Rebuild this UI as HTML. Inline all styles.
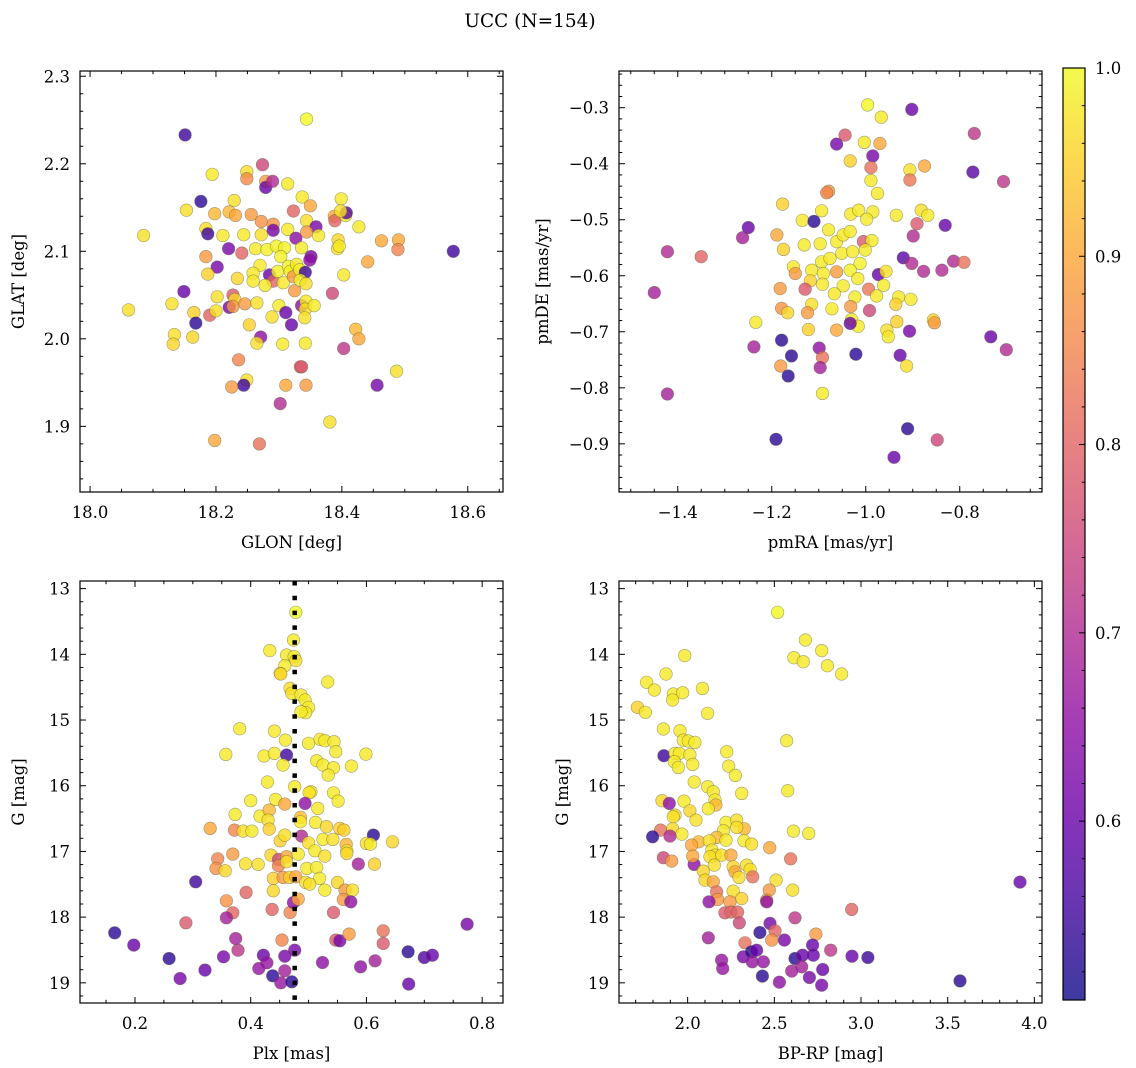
<!DOCTYPE html>
<html><head><meta charset="utf-8">
<style>
html,body{margin:0;padding:0;background:#fff;}
svg{display:block;font-family:"DejaVu Serif","Liberation Serif",serif;}
</style></head>
<body>
<svg id="fig" width="1136" height="1068" viewBox="0 0 1136 1068" xmlns="http://www.w3.org/2000/svg">
<rect x="0" y="0" width="1136" height="1068" fill="#fff"/>
<text x="530" y="27" font-size="18.5" text-anchor="middle" fill="#000">UCC (N=154)</text>
</svg>
<script>
// ---- Panel 1: GLON vs GLAT ----
const glon=[18.344,18.151,18.274,18.194,18.249,18.249,18.279,18.279,18.290,18.314,18.176,18.153,18.229,18.198,18.221,18.231,18.256,18.323,18.337,18.350,18.399,18.388,18.389,18.406,18.407,18.398,18.427,18.184,18.187,18.211,18.244,18.272,18.291,18.291,18.272,18.314,18.327,18.344,18.359,18.344,18.363,18.085,18.220,18.241,18.263,18.281,18.296,18.309,18.336,18.303,18.351,18.349,18.394,18.393,18.396,18.463,18.490,18.489,18.577,18.441,18.184,18.202,18.187,18.234,18.270,18.259,18.285,18.291,18.298,18.307,18.315,18.318,18.328,18.323,18.333,18.342,18.325,18.334,18.343,18.259,18.278,18.403,18.149,18.130,18.202,18.227,18.230,18.221,18.227,18.246,18.265,18.300,18.311,18.336,18.343,18.342,18.356,18.385,18.061,18.165,18.190,18.168,18.200,18.289,18.320,18.341,18.253,18.134,18.132,18.163,18.271,18.265,18.306,18.342,18.422,18.427,18.403,18.236,18.334,18.336,18.249,18.244,18.225,18.311,18.343,18.456,18.487,18.302,18.381,18.198,18.269];
const glat=[2.251,2.233,2.199,2.188,2.191,2.183,2.180,2.173,2.180,2.177,2.157,2.147,2.158,2.143,2.145,2.141,2.142,2.146,2.162,2.152,2.160,2.140,2.135,2.141,2.144,2.146,2.128,2.126,2.120,2.118,2.119,2.134,2.131,2.124,2.119,2.125,2.115,2.135,2.128,2.122,2.118,2.118,2.103,2.098,2.103,2.102,2.106,2.104,2.104,2.094,2.094,2.090,2.113,2.103,2.106,2.112,2.113,2.102,2.100,2.088,2.094,2.082,2.074,2.069,2.084,2.075,2.073,2.066,2.077,2.064,2.083,2.077,2.085,2.071,2.079,2.076,2.055,2.067,2.063,2.066,2.061,2.073,2.054,2.040,2.048,2.050,2.045,2.036,2.037,2.040,2.041,2.038,2.030,2.038,2.043,2.034,2.038,2.052,2.033,2.030,2.027,2.018,2.032,2.025,2.016,2.024,2.016,2.005,1.994,2.002,2.002,1.995,1.994,1.995,2.011,2.000,1.989,1.976,1.968,1.968,1.953,1.947,1.945,1.947,1.947,1.947,1.963,1.926,1.905,1.884,1.880];
const probA=[1,.55,.75,.98,.97,.86,.88,.6,.7,.98,.53,.97,.97,.92,.92,.9,.88,.8,.98,.9,.98,.9,.8,.98,.58,.97,.98,.97,.55,.98,.98,.87,.87,.62,.97,.98,.65,.97,.62,.88,.98,.97,.62,.8,.98,.99,.99,.99,.98,.99,.62,.65,.96,.97,.98,.9,.9,.85,.55,.9,.88,.62,.95,.96,.98,.98,.6,.8,.99,.98,.99,.99,.98,.88,.99,.55,.88,.99,.97,.98,.98,.98,.6,.97,.97,.78,.96,.62,.88,.88,.97,.98,.6,.65,.98,.97,.98,.75,.97,.95,.8,.53,.97,.97,.6,.97,.95,.97,.96,.96,.65,.97,.98,.98,.92,.9,.72,.85,.8,.78,.97,.55,.88,.9,.88,.62,.97,.7,.97,.9,.82];
const glonTicks=[18.0,18.2,18.4,18.6];
const glatTicks=[1.9,2.0,2.1,2.2,2.3];

// ---- Panel 2: pmRA vs pmDE ----
const pmra=[-0.996,-0.902,-0.967,-0.769,-1.044,-1.062,-1.003,-0.970,-0.985,-1.033,-0.989,-0.875,-0.906,-0.906,-0.772,-0.707,-0.989,-0.975,-1.079,-1.083,-1.177,-1.094,-1.135,-1.110,-1.032,-1.015,-0.985,-0.998,-0.935,-0.882,-0.868,-0.891,-0.831,-0.899,-1.250,-1.262,-1.189,-1.175,-1.131,-1.097,-1.079,-1.062,-1.048,-1.033,-1.005,-0.987,-1.001,-1.422,-1.350,-0.920,-0.902,-0.877,-0.838,-0.813,-0.791,-1.154,-1.150,-1.115,-1.094,-1.076,-1.051,-1.028,-1.012,-1.033,-1.062,-1.090,-0.973,-0.957,-0.962,-1.118,-1.129,-1.092,-1.048,-1.017,-1.182,-1.450,-0.994,-1.067,-1.023,-0.977,-0.930,-0.904,-0.936,-1.115,-1.179,-1.166,-1.124,-1.072,-1.032,-0.992,-1.030,-1.016,-1.033,-1.234,-1.122,-1.062,-0.955,-0.934,-0.952,-0.907,-0.856,-0.854,-0.734,-0.701,-1.179,-1.238,-1.099,-1.158,-1.021,-0.927,-1.092,-1.181,-1.097,-0.913,-1.165,-1.092,-1.422,-0.911,-1.191,-0.848,-0.940];
const pmde=[-0.295,-0.303,-0.317,-0.346,-0.349,-0.365,-0.362,-0.364,-0.386,-0.395,-0.407,-0.404,-0.411,-0.429,-0.415,-0.432,-0.430,-0.453,-0.449,-0.452,-0.472,-0.484,-0.501,-0.503,-0.490,-0.483,-0.486,-0.499,-0.492,-0.483,-0.492,-0.507,-0.510,-0.529,-0.514,-0.532,-0.527,-0.553,-0.545,-0.543,-0.518,-0.539,-0.527,-0.521,-0.539,-0.537,-0.554,-0.557,-0.566,-0.568,-0.578,-0.592,-0.590,-0.574,-0.576,-0.584,-0.596,-0.590,-0.575,-0.569,-0.560,-0.557,-0.578,-0.590,-0.593,-0.596,-0.598,-0.592,-0.617,-0.609,-0.624,-0.615,-0.618,-0.605,-0.623,-0.630,-0.624,-0.632,-0.638,-0.636,-0.638,-0.642,-0.651,-0.651,-0.658,-0.666,-0.666,-0.659,-0.655,-0.662,-0.678,-0.690,-0.685,-0.683,-0.696,-0.697,-0.697,-0.682,-0.709,-0.699,-0.679,-0.684,-0.709,-0.732,-0.715,-0.727,-0.729,-0.743,-0.740,-0.742,-0.746,-0.761,-0.764,-0.761,-0.779,-0.810,-0.811,-0.873,-0.892,-0.893,-0.924];
const probB=[1,.6,.98,.72,.78,.62,.98,.9,.62,.95,.82,.9,.97,.83,.58,.72,.98,.98,.88,.85,.95,.98,.98,.53,.98,.98,.98,.98,.98,.97,.98,.78,.6,.7,.6,.68,.9,.95,.98,.98,.98,.98,.98,.98,.78,.98,.98,.7,.8,.58,.7,.7,.7,.7,.82,.98,.88,.98,.98,.98,.98,.98,.99,.99,.88,.98,.6,.97,.98,.95,.78,.98,.98,.98,.88,.68,.83,.98,.98,.98,.98,.98,.95,.97,.87,.96,.88,.98,.88,.75,.98,.98,.6,.98,.95,.9,.97,.95,.98,.62,.96,.88,.6,.7,.53,.68,.65,.53,.53,.6,.82,.88,.68,.97,.53,.98,.68,.53,.53,.75,.6];
const pmraTicks=[-1.4,-1.2,-1.0,-0.8];
const pmdeTicks=[-0.9,-0.8,-0.7,-0.6,-0.5,-0.4,-0.3];

// ---- Panel 3: Plx vs G ----
const plx=[.478,.433,.474,.462,.475,.478,.459,.451,.452,.533,.468,.471,.487,.494,.500,.495,.487,.381,.441,.460,.500,.520,.528,.544,.547,.357,.423,.441,.462,.456,.514,.525,.543,.534,.574,.599,.429,.476,.504,.501,.543,.551,.400,.443,.459,.494,.516,.373,.416,.432,.430,.432,.486,.486,.512,.531,.554,.561,.330,.372,.387,.402,.451,.459,.488,.500,.525,.542,.565,.566,.566,.612,.600,.607,.645,.369,.343,.340,.356,.391,.413,.435,.448,.448,.462,.462,.482,.511,.528,.586,.614,.497,.514,.519,.439,.439,.456,.467,.478,.495,.502,.528,.550,.563,.576,.560,.573,.305,.392,.358,.369,.358,.437,.468,.474,.482,.543,.288,.165,.198,.259,.278,.321,.353,.374,.378,.422,.428,.414,.438,.459,.452,.471,.459,.476,.454,.524,.547,.554,.570,.590,.615,.629,.629,.672,.673,.700,.714,.774];
const gA=[13.360,13.944,13.782,14.010,14.036,14.096,14.173,14.289,14.299,14.421,14.518,14.594,14.619,14.695,14.807,14.888,14.873,15.132,15.168,15.305,15.355,15.294,15.315,15.330,15.482,15.523,15.548,15.508,15.533,15.685,15.619,15.685,15.726,15.838,15.701,15.518,15.944,16.015,16.091,16.107,16.107,16.234,16.228,16.208,16.279,16.269,16.345,16.437,16.462,16.371,16.523,16.660,16.482,16.548,16.558,16.624,16.650,16.675,16.650,16.675,16.690,16.690,16.838,16.751,16.766,16.868,16.817,16.817,16.893,16.990,17.030,16.751,16.878,16.888,16.853,17.041,17.112,17.259,17.294,17.188,17.198,17.056,17.122,17.218,17.081,17.157,17.041,16.990,17.071,17.193,17.193,17.259,17.244,17.411,17.411,17.599,17.396,17.396,17.386,17.472,17.497,17.589,17.472,17.589,17.589,17.731,17.766,17.462,17.624,17.751,17.934,18.010,17.883,17.929,17.777,17.726,17.929,18.086,18.239,18.426,18.629,18.934,18.807,18.604,18.325,18.503,18.579,18.695,18.782,18.893,18.817,19.000,18.985,18.594,18.503,18.350,18.690,18.350,18.360,18.259,18.756,18.665,18.208,18.401,18.528,19.020,18.614,18.579,18.107];
const probC=[1,.98,.98,.98,.98,.97,.98,.97,.96,.98,.97,.97,.98,.98,.98,.98,.98,.98,.98,.98,.98,.98,.98,.98,.98,.98,.98,.98,.55,.98,.98,.98,.98,.98,.98,.98,.98,.98,.98,.97,.98,.98,.98,.98,.9,.65,.98,.98,.98,.92,.97,.95,.93,.98,.98,.96,.95,.95,.9,.85,.97,.98,.95,.97,.7,.97,.98,.97,.92,.97,.96,.53,.97,.98,.96,.88,.85,.87,.96,.97,.97,.96,.75,.85,.9,.97,.98,.98,.97,.68,.95,.98,.98,.98,.95,.96,.88,.95,.9,.97,.97,.98,.96,.88,.97,.88,.65,.55,.8,.87,.8,.68,.8,.85,.65,.9,.78,.78,.53,.6,.53,.62,.6,.62,.68,.72,.6,.66,.66,.53,.68,.66,.53,.62,.62,.85,.65,.78,.62,.88,.65,.68,.82,.78,.53,.6,.57,.6,.62];
const plxTicks=[0.2,0.4,0.6,0.8];
const gTicks=[13,14,15,16,17,18,19];
const plxMedian=[0.476];

// ---- Panel 4: BP-RP vs G ----
const bprp=[2.519,2.679,2.773,2.613,2.667,2.806,2.888,1.983,1.875,1.763,1.808,1.917,1.971,2.085,1.913,1.710,1.756,2.115,1.860,1.956,1.975,2.004,2.042,2.571,1.863,1.927,1.952,2.013,1.923,1.946,2.029,2.225,2.237,2.275,2.038,2.115,2.148,2.158,2.312,2.577,1.852,1.894,1.979,2.163,2.119,2.013,1.927,1.917,2.048,1.913,1.967,1.844,1.898,1.798,2.221,2.283,2.327,2.283,2.206,2.167,2.063,2.023,2.125,2.221,2.325,2.369,2.140,2.158,2.129,2.196,2.250,2.610,2.698,2.473,2.594,1.860,1.908,2.037,2.029,2.090,2.154,2.100,2.148,2.263,2.273,2.296,2.340,2.360,2.375,2.510,2.471,2.606,2.263,2.312,2.167,2.173,2.244,2.456,2.456,2.123,2.215,2.250,2.288,2.298,2.619,2.946,2.475,2.504,2.417,2.485,2.558,2.331,2.740,2.721,2.825,2.119,2.196,2.202,2.321,2.369,2.398,2.373,2.437,2.431,2.529,2.600,2.619,2.663,2.658,2.725,2.702,2.779,2.773,2.948,3.040,3.571,3.917];
const gB=[13.360,13.782,13.944,14.051,14.112,14.173,14.299,14.020,14.299,14.426,14.543,14.604,14.584,14.518,14.695,14.807,14.883,14.898,15.137,15.162,15.305,15.320,15.340,15.315,15.543,15.508,15.508,15.528,15.635,15.721,15.675,15.482,15.701,15.843,15.944,16.015,16.091,16.218,16.117,16.076,16.228,16.269,16.234,16.294,16.350,16.381,16.447,16.472,16.523,16.655,16.736,16.675,16.766,16.777,16.558,16.523,16.655,16.635,16.685,16.787,16.853,16.904,16.838,16.827,16.838,16.888,16.980,17.056,17.081,17.056,17.056,16.690,16.726,16.944,17.112,17.096,17.147,17.198,17.071,17.299,17.208,17.437,17.462,17.234,17.310,17.396,17.208,17.274,17.386,17.437,17.589,17.589,17.604,17.716,17.614,17.731,17.766,17.741,17.766,17.766,17.934,17.924,17.924,18.086,18.010,17.883,18.096,18.208,18.234,18.350,18.350,18.391,18.259,18.426,18.503,18.315,18.655,18.782,18.604,18.528,18.503,18.680,18.680,18.898,18.990,18.822,18.629,18.579,18.756,18.579,18.919,18.797,19.036,18.594,18.614,18.970,17.467];
const probD=[1,.98,.98,.98,.98,.98,.98,.98,.98,.98,.98,.98,.98,.98,.98,.95,.98,.98,.98,.98,.98,.98,.98,.98,.55,.98,.98,.98,.98,.98,.98,.98,.98,.98,.98,.98,.98,.98,.98,.98,.96,.65,.98,.92,.98,.96,.97,.97,.97,.96,.98,.82,.7,.53,.98,.97,.92,.97,.98,.92,.92,.9,.97,.98,.98,.97,.98,.97,.97,.97,.9,.98,.98,.9,.82,.75,.88,.65,.9,.96,.97,.96,.9,.96,.9,.97,.97,.97,.82,.97,.88,.97,.97,.95,.82,.88,.88,.88,.65,.65,.78,.8,.8,.75,.72,.8,.62,.8,.53,.87,.62,.82,.88,.6,.72,.68,.66,.66,.62,.53,.6,.66,.66,.53,.65,.68,.53,.6,.68,.6,.62,.6,.62,.6,.55,.53,.6];
const bprpTicks=[2.0,2.5,3.0,3.5,4.0];

// ---- Colorbar ----
const cbarTicks=[0.6,0.7,0.8,0.9,1.0];
const cbarRange=[0.505,1.0];

const NS="http://www.w3.org/2000/svg";
const svg=document.getElementById('fig');
function mk(tag,attrs,parent){const e=document.createElementNS(NS,tag);for(const k in attrs)e.setAttribute(k,attrs[k]);(parent||svg).appendChild(e);return e;}

const stops=[[13,8,135],[65,4,157],[106,0,168],[143,13,164],[177,42,144],[204,71,120],[225,100,98],[242,132,75],[252,166,54],[252,206,37],[240,249,33]];
function plasma(t){t=Math.max(0,Math.min(1,t));const f=t*10;const i=Math.min(9,Math.floor(f));const r=f-i;const a=stops[i],b=stops[i+1];
  return 'rgb('+[0,1,2].map(k=>Math.round(a[k]+(b[k]-a[k])*r)).join(',')+')';}
function cnorm(v){return (v-cbarRange[0])/(cbarRange[1]-cbarRange[0]);}

function fmt(v,d){const s=Math.abs(v).toFixed(d);return (v<-1e-9?'\u2212':'')+s;}

function panel(cfg){
  const g=mk('g',{});
  
  
  const L=cfg.L,T=cfg.T,R=cfg.R,B=cfg.B;
  const sx=v=>L+(v-cfg.x0)/(cfg.x1-cfg.x0)*(R-L);
  const sy=cfg.inv?(v=>T+(v-cfg.y0)/(cfg.y1-cfg.y0)*(B-T)):(v=>B-(v-cfg.y0)/(cfg.y1-cfg.y0)*(B-T));
  const pg=mk('g',{},g);
  
  
  for(let i=0;i<cfg.xs.length;i++){
    const c=mk('circle',{cx:sx(cfg.xs[i]).toFixed(1),cy:sy(cfg.ys[i]).toFixed(1),r:6.3,fill:plasma(cnorm(cfg.cs[i])),'fill-opacity':0.8,stroke:'rgba(90,90,60,0.55)','stroke-width':0.6},pg);
    
    
  }
  if(cfg.extra)cfg.extra(g,sx,sy);
  const fr=mk('rect',{x:L,y:T,width:R-L,height:B-T,fill:'none',stroke:'#000','stroke-width':1.2},g);
  
  
  const xm=cfg.xminor;
  for(let k=Math.ceil(cfg.x0/xm-1e-6);k*xm<=cfg.x1+1e-9;k++){
    const v=k*xm;const px=sx(v);
    const major=Math.abs(v/cfg.xmajor-Math.round(v/cfg.xmajor))<1e-6;
    const len=major?6:3.2;
    mk('line',{x1:px,x2:px,y1:B,y2:B-len,stroke:'#000','stroke-width':1},g);
    mk('line',{x1:px,x2:px,y1:T,y2:T+len,stroke:'#000','stroke-width':1},g);
  }
  cfg.xt.forEach(v=>{const t=mk('text',{x:sx(v),y:B+26,'font-size':16.5,'text-anchor':'middle',fill:'#000'},g);t.textContent=fmt(v,cfg.xd);
    
    });
  const ym=cfg.yminor;
  for(let k=Math.ceil(Math.min(cfg.y0,cfg.y1)/ym-1e-6);k*ym<=Math.max(cfg.y0,cfg.y1)+1e-9;k++){
    const v=k*ym;const py=sy(v);
    const major=Math.abs(v/cfg.ymajor-Math.round(v/cfg.ymajor))<1e-6;
    const len=major?6:3.2;
    mk('line',{x1:L,x2:L+len,y1:py,y2:py,stroke:'#000','stroke-width':1},g);
    mk('line',{x1:R,x2:R-len,y1:py,y2:py,stroke:'#000','stroke-width':1},g);
  }
  cfg.yt.forEach(v=>{const t=mk('text',{x:L-10,y:sy(v)+6,'font-size':16.5,'text-anchor':'end',fill:'#000'},g);t.textContent=fmt(v,cfg.yd);
    
    });
  const xl=mk('text',{x:(L+R)/2,y:B+56,'font-size':16.5,'text-anchor':'middle',fill:'#000'},g);xl.textContent=cfg.xlab;
  
  
  const yx=cfg.ylx,yy=(T+B)/2;
  const yl=mk('text',{x:yx,y:yy,'font-size':16.5,'text-anchor':'middle',fill:'#000',transform:'rotate(-90 '+yx+' '+yy+')'},g);yl.textContent=cfg.ylab;
  
  
}

panel({name:'glon-glat-panel',L:80,R:503,T:71,B:492,x0:17.984,x1:18.656,y0:1.825,y1:2.306,inv:false,
  xmajor:0.2,xminor:0.05,ymajor:0.1,yminor:0.02,xt:glonTicks,yt:glatTicks,xd:1,yd:1,
  xs:glon,ys:glat,cs:probA,xlab:'GLON [deg]',ylab:'GLAT [deg]',ylx:24});
panel({name:'pm-panel',L:619,R:1042,T:71,B:492,x0:-1.525,x1:-0.625,y0:-0.986,y1:-0.2345,inv:false,
  xmajor:0.2,xminor:0.05,ymajor:0.1,yminor:0.02,xt:pmraTicks,yt:pmdeTicks,xd:1,yd:1,
  xs:pmra,ys:pmde,cs:probB,xlab:'pmRA [mas/yr]',ylab:'pmDE [mas/yr]',ylx:548});
panel({name:'plx-g-panel',L:80,R:503,T:581,B:1003,x0:0.105,x1:0.836,y0:12.884,y1:19.307,inv:true,
  xmajor:0.2,xminor:0.05,ymajor:1,yminor:0.2,xt:plxTicks,yt:gTicks,xd:1,yd:0,
  xs:plx,ys:gA,cs:probC,xlab:'Plx [mas]',ylab:'G [mag]',ylx:24,
  extra:(g,sx,sy)=>{plxMedian.forEach(v=>{const l=mk('line',{x1:sx(v),x2:sx(v),y1:581,y2:1003,stroke:'#000','stroke-width':4.5,'stroke-dasharray':'4.5 10.3'},g);
    
    });}});
panel({name:'cmd-panel',L:619,R:1042,T:581,B:1003,x0:1.604,x1:4.044,y0:12.884,y1:19.307,inv:true,
  xmajor:0.5,xminor:0.1,ymajor:1,yminor:0.2,xt:bprpTicks,yt:gTicks,xd:1,yd:0,
  xs:bprp,ys:gB,cs:probD,xlab:'BP-RP [mag]',ylab:'G [mag]',ylx:568});

// colorbar
(function(){
  const L=1063,R=1085,T=68,B=1000;
  const cg=mk('g',{});
  
  
  const defs=mk('defs',{},svg);
  const grad=mk('linearGradient',{id:'cbgrad',x1:0,y1:1,x2:0,y2:0},defs);
  for(let i=0;i<=20;i++){mk('stop',{offset:(i/20).toFixed(3),'stop-color':plasma(i/20)},grad);}
  const bar=mk('rect',{x:L,y:T,width:R-L,height:B-T,fill:'url(#cbgrad)','fill-opacity':0.8},cg);
  
  
  mk('rect',{x:L,y:T,width:R-L,height:B-T,fill:'none',stroke:'#000','stroke-width':1.2},cg);
  const sy=v=>B-(v-cbarRange[0])/(cbarRange[1]-cbarRange[0])*(B-T);
  for(let k=Math.ceil(cbarRange[0]/0.02-1e-6);k*0.02<=cbarRange[1]+1e-9;k++){
    const v=k*0.02;const major=Math.abs(v*10-Math.round(v*10))<1e-6;
    mk('line',{x1:R,x2:R-(major?6:3.2),y1:sy(v),y2:sy(v),stroke:'#000','stroke-width':1},cg);
  }
  cbarTicks.forEach(v=>{const t=mk('text',{x:R+10,y:sy(v)+6,'font-size':16.5,fill:'#000'},cg);t.textContent=v.toFixed(1);
    
    });
})();
</script>
</body></html>
